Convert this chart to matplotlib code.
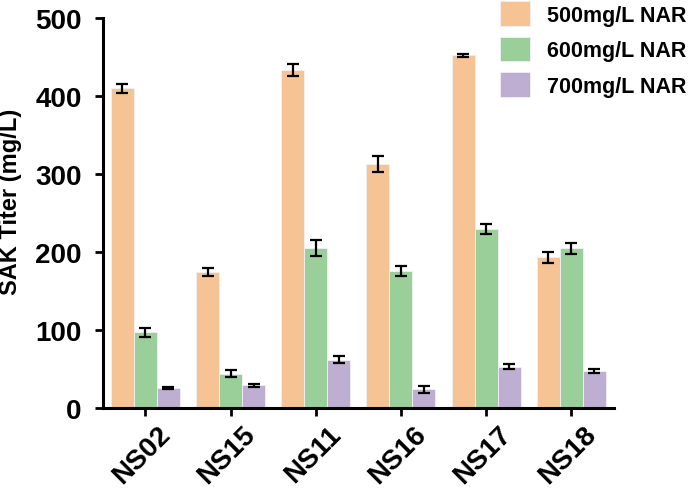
import matplotlib
matplotlib.use("Agg")
import matplotlib.pyplot as plt
import matplotlib.transforms as mtrans
import numpy as np

plt.rcParams['font.family'] = ['Liberation Sans', 'DejaVu Sans']
plt.rcParams['font.weight'] = 'bold'

strains = ["NS02", "NS15", "NS11", "NS16", "NS17", "NS18"]
series_names = ["500mg/L NAR", "600mg/L NAR", "700mg/L NAR"]
vals_500 = [410, 174, 433, 313, 452, 193]
err_500 = [6, 5, 7.5, 10, 2, 7.5]
vals_600 = [97, 44, 205, 176, 229, 205]
err_600 = [6, 4.5, 10, 6.5, 6.5, 7]
vals_700 = [26, 29, 62, 24, 53, 47]
err_700 = [1.5, 2, 4.5, 4.3, 3, 2.6]
colors = ["#F5C394", "#9ACF9A", "#BEAED2"]

fig = plt.figure(figsize=(6.88, 4.89), dpi=100)
ax = fig.add_axes([102.7/688, 1-409/489, (614-102.7)/688, (409-19)/489])

x = np.arange(len(strains))
w = 0.27
ekw = dict(elinewidth=1.6, capthick=1.6, ecolor='black')
for i, (vals, errs) in enumerate([(vals_500, err_500), (vals_600, err_600), (vals_700, err_700)]):
    ax.bar(x + (i-1)*w, vals, w, yerr=errs, capsize=4, color=colors[i],
           edgecolor='#f4f0f6', linewidth=0.6, label=series_names[i], error_kw=ekw, zorder=2)

ax.set_xlim(-0.5, 5.5)
ax.set_ylim(0, 500)
ax.set_yticks([0, 100, 200, 300, 400, 500])
ax.set_xticks(x)
ax.tick_params(axis='y', labelsize=20, width=2, length=6, pad=9)
ax.tick_params(axis='x', width=2, length=6, pad=3)
ax.set_xticklabels(strains, rotation=45, ha='right', rotation_mode='anchor', fontsize=20, fontweight='bold')
offset = mtrans.ScaledTranslation(12/100, 0, fig.dpi_scale_trans)
for lab in ax.get_xticklabels():
    lab.set_transform(lab.get_transform() + offset)
for lab in ax.get_yticklabels():
    lab.set_fontweight('bold')
for s in ['top', 'right']:
    ax.spines[s].set_visible(False)
for s in ['left', 'bottom']:
    ax.spines[s].set_linewidth(2.2)

fig.text(11/688, 1-202/489, "SAK Titer (mg/L)", rotation=90, ha='center', va='center',
         fontsize=17, fontweight='bold')

leg = fig.legend(loc='upper left', bbox_to_anchor=(500/688, 1-2/489), frameon=False,
                 handlelength=1.4, handleheight=1.4, handletextpad=0.8,
                 labelspacing=0.5, borderpad=0.0, borderaxespad=0.0,
                 prop={'weight': 'bold', 'size': 15.5})

fig.savefig("out.png", dpi=100)
